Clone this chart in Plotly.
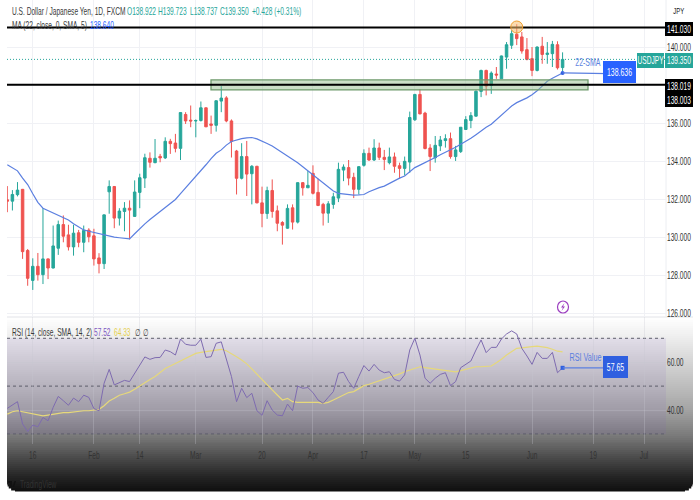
import plotly.graph_objects as go

W, H = 700, 500
opens = [131.98,131.91,132.25,132.53,129.32,127.75,128.49,128.05,128.88,128.40,129.44,130.68,130.14,129.51,130.25,129.75,130.39,130.09,128.93,128.63,
132.40,132.68,131.02,131.37,131.54,131.11,132.37,133.12,134.16,133.93,134.26,134.18,135.05,134.96,134.68,136.46,136.16,136.12,136.14,136.81,
135.96,135.89,137.16,137.33,136.12,134.54,133.11,134.25,133.35,133.74,131.82,131.26,132.47,131.40,130.79,130.49,131.56,130.81,132.88,132.61,
133.37,132.37,131.74,131.28,131.74,132.07,133.54,133.67,133.16,132.53,133.79,134.42,134.07,134.70,134.21,133.93,134.23,133.77,133.63,133.96,
136.18,137.51,136.53,134.70,134.19,134.81,135.09,135.19,134.25,134.51,135.67,136.14,136.37,137.67,138.77,137.98,138.58,138.33,139.47,140.09,
140.67,140.53,139.86,139.39,138.77,140.04,139.61,139.65,140.12,138.92]
highs = [132.70,132.49,132.91,132.55,129.40,128.91,129.19,131.54,128.90,130.63,130.89,131.16,130.67,130.67,130.40,130.63,130.49,130.46,129.18,131.20,
133.00,132.70,131.54,131.86,131.95,133.00,133.35,134.40,134.47,135.17,134.39,135.26,135.18,135.44,136.58,136.58,136.93,136.20,137.14,136.82,
136.40,137.20,137.95,137.42,136.20,134.60,134.95,135.07,133.80,133.76,132.67,132.67,133.05,131.68,130.86,131.74,131.74,132.90,132.91,133.49,
133.79,133.09,131.82,131.91,132.35,133.93,133.84,134.07,133.40,133.75,134.63,134.72,135.16,134.98,134.60,134.72,134.46,133.93,134.25,136.61,
137.54,137.79,136.60,134.90,135.33,135.33,135.42,135.51,134.81,135.79,136.37,136.58,137.72,138.81,138.81,138.72,138.95,139.55,140.26,140.88,
141.20,140.79,140.47,140.00,140.03,140.53,140.26,140.32,140.30,139.72]
lows = [131.33,131.42,132.16,128.88,127.47,127.25,127.74,127.56,127.82,128.38,129.09,129.75,129.32,129.05,129.49,129.23,129.75,128.53,128.12,128.35,
131.25,130.49,130.63,130.33,129.90,131.10,131.54,132.60,133.67,133.90,133.95,134.12,134.39,134.47,134.07,135.96,135.79,135.26,136.09,135.80,
135.44,135.56,136.58,136.05,134.20,132.26,133.05,132.18,131.74,131.80,130.54,130.98,131.04,130.33,129.63,130.46,130.42,130.74,132.20,132.60,
132.26,131.65,130.63,130.77,131.51,131.86,132.96,132.74,132.07,132.26,133.72,134.02,134.02,134.07,133.54,133.84,133.40,133.09,133.26,133.40,
136.12,136.47,134.63,133.49,133.93,134.54,134.72,134.14,134.02,134.44,135.65,135.74,136.35,137.37,137.46,137.54,138.33,138.32,138.86,139.90,
140.10,139.65,139.30,138.47,138.72,139.12,139.12,138.95,138.82,138.74]
closes = [131.91,132.26,132.49,129.26,127.86,128.49,128.05,128.88,128.40,129.56,130.68,130.07,129.51,130.23,129.75,130.37,130.04,128.88,128.63,131.19,
132.68,131.02,131.39,131.54,131.44,132.39,133.14,134.19,133.95,134.16,134.18,135.05,134.93,134.68,136.56,136.12,136.12,136.14,136.81,135.81,
135.89,137.18,137.32,136.12,135.04,133.11,134.25,133.33,133.74,131.82,131.26,132.47,131.37,130.75,130.65,131.53,130.81,132.88,132.61,132.74,
132.32,131.68,131.28,131.77,132.14,133.58,133.70,133.12,132.53,133.72,134.42,134.07,134.70,134.21,134.10,134.23,133.74,133.63,134.00,136.30,
137.51,136.49,134.67,134.25,134.84,135.12,135.19,134.25,134.60,135.79,136.19,136.40,137.68,138.77,137.95,138.63,138.53,139.53,140.12,140.70,
140.44,139.79,139.35,138.77,140.00,139.61,139.68,140.14,138.91,139.35]
sma22 = [133.82,133.68,133.5,133.12,132.78,132.3,131.85,131.54,131.42,131.3,131.2,131.06,130.92,130.72,130.55,130.4,130.33,130.27,130.2,130.12,
130.07,130.02,129.99,129.96,129.93,130.2,130.47,130.72,130.95,131.16,131.38,131.6,131.8,132.0,132.3,132.6,132.9,133.18,133.5,133.82,
134.14,134.42,134.6,134.85,135.04,135.13,135.19,135.23,135.25,135.18,135.07,134.94,134.8,134.63,134.44,134.25,134.1,133.92,133.72,133.5,
133.28,133.06,132.84,132.62,132.44,132.32,132.28,132.25,132.23,132.24,132.26,132.4,132.53,132.62,132.7,132.85,133.0,133.12,133.23,133.45,
133.67,133.8,133.92,134.05,134.2,134.35,134.48,134.58,134.74,134.9,135.05,135.21,135.4,135.6,135.79,135.95,136.2,136.45,136.67,136.9,
137.08,137.2,137.33,137.5,137.7,137.95,138.2,138.36,138.5,138.64]
rsi = [40.7,42.1,43.5,34.2,31,33.7,33,36.9,35.5,41.1,45.7,43.9,42,45,43.5,46.2,45.3,40.6,39.7,51.2,
57,50.5,51.6,52.4,51.9,55.4,58.4,62.2,61.2,61.9,62,65.1,64.4,63,69.7,67.5,67.1,67.1,69.6,62,
62.3,67.9,68.5,61.6,54,43.5,49.1,45.2,47,39.7,37.8,43.9,40,37.9,37.6,42.5,39.7,50,49.1,49.4,
47.3,44.2,42.8,45.3,47.7,55.4,55.8,51.9,49.1,54,58.6,56.3,59.1,56.7,55.6,56,52.8,52.1,54.7,65.1,
70,63,53.3,51.2,53.3,54.9,55.6,50.2,51.9,57.7,59.1,60.5,65.1,69.3,64,66.2,66.2,69.7,71.8,73.1,
71.8,65.8,62.6,59.1,64.1,61.6,61.6,64.1,55.6,57.65]
rsi_ma = [38.3,39.3,39.7,39.3,38.8,38.2,37.9,37.6,37.9,38.3,38.8,38.9,38.9,39.2,39.5,39.7,39.7,40,40.3,41.8,
43.8,44.9,46.2,46.8,47.5,48.7,50.1,51.6,52.8,54,55.8,57.4,58.4,59.5,60.5,61.6,62.6,63.7,64.1,64.4,
64.7,65.3,65.4,64.8,63.7,62.3,60.9,59.3,57.2,54.9,52.8,50.5,48.4,46.3,44.2,44.9,43.5,43.2,43.2,43.2,
43.2,43.2,42.8,43.2,44.2,45.2,46.3,47.3,47.7,49.1,50.2,50.8,51.5,52.1,52.8,53.7,54.2,55.1,56,56.7,
57.4,58.1,57.7,57.4,57,56.7,56.5,56.2,56,56.5,57,57.7,58.1,58.1,58.1,58.4,59.8,61.2,63,64.4,
65.8,66,66.4,66.5,66.7,66.5,66.1,65.4,64.6,64.33]
price_ticks = [126,128,130,132,134,136,138,140]
rsi_ticks = [40,60]
rsi_levels = [70,50,30]
date_pos = [5,17,26,37,50,60,70,80,90,103,115,125]
date_labels = ["16","Feb","14","Mar","20","Apr","17","May","15","Jun","19","Jul"]
LEVEL_HI, LEVEL_LO, LEVEL_LO2 = 141.03, 138.019, 138.003
ZONE = (137.75, 138.27)
LAST = 139.35
n = len(closes)
xs = list(range(n))

FONT = "Liberation Sans"
GREEN, RED = "#26a69a", "#ef5350"
XDOM = (7/W, 666/W)
fig = go.Figure()
fig.add_trace(go.Candlestick(x=xs, open=opens, high=highs, low=lows, close=closes, xaxis="x", yaxis="y",
    increasing=dict(line=dict(color=GREEN, width=1), fillcolor=GREEN),
    decreasing=dict(line=dict(color=RED, width=1), fillcolor=RED), showlegend=False, hoverinfo="skip"))
fig.add_trace(go.Scatter(x=xs, y=sma22, mode="lines", line=dict(color="#5b7fe0", width=1.2), xaxis="x", yaxis="y", showlegend=False, hoverinfo="skip"))
fig.add_trace(go.Scatter(x=xs, y=rsi_ma, mode="lines", line=dict(color="#e6d87a", width=1.2), xaxis="x2", yaxis="y2", showlegend=False, hoverinfo="skip"))
fig.add_trace(go.Scatter(x=xs, y=rsi, mode="lines", line=dict(color="#7e6bb0", width=1), xaxis="x2", yaxis="y2", showlegend=False, hoverinfo="skip"))
fig.add_trace(go.Scatter(x=[n-1], y=[sma22[-1]], mode="markers", marker=dict(color="#2f5fe0", size=4), xaxis="x", yaxis="y", showlegend=False, hoverinfo="skip"))
fig.add_trace(go.Scatter(x=[n-1], y=[rsi[-1]], mode="markers", marker=dict(color="#2f5fe0", size=4, symbol="square"), xaxis="x2", yaxis="y2", showlegend=False, hoverinfo="skip"))

shapes = []
# gradient panel at the bottom of the picture
grey_stops = [(318,255),(338,238),(361,214),(386,190),(409,165),(434,125),(444,105),(460,70),(475,40),(491,15)]
def grey(y):
    for (a, va), (b, vb) in zip(grey_stops, grey_stops[1:]):
        if y <= b:
            return int(va + (vb-va)*(y-a)/(b-a))
    return 15
top, bottom = 318, 491
step = 2
y = top
while y < bottom:
    y1 = min(y+step, bottom)
    remain = bottom - y1
    inset = 8 - (64-(8-remain)**2)**0.5 if remain < 8 else 0
    v = grey(y+1)
    shapes.append(dict(type="rect", xref="paper", yref="paper", layer="below", line=dict(width=0),
        x0=(7+inset)/W, x1=(693-inset)/W, y0=1-(y1+0.4)/H, y1=1-y/H, fillcolor=f"rgb({v},{v},{v})"))
    y = y1
# RSI band
shapes.append(dict(type="rect", xref="x2 domain", yref="y2", x0=0, x1=1, y0=rsi_levels[2], y1=rsi_levels[0], layer="below", line=dict(width=0), fillcolor="rgba(126,87,194,0.10)"))
for lv in rsi_levels:
    shapes.append(dict(type="line", xref="x2 domain", yref="y2", x0=0, x1=1, y0=lv, y1=lv, line=dict(color="#5d5d6b", width=1, dash="3px,3px"), layer="below"))
# pane separators
shapes.append(dict(type="line", xref="paper", yref="paper", x0=7/W, x1=693/W, y0=1-317/H, y1=1-317/H, line=dict(color="#e2e3e8", width=1), layer="below"))
shapes.append(dict(type="line", xref="paper", yref="paper", x0=7/W, x1=693/W, y0=1-444/H, y1=1-444/H, line=dict(color="#666", width=1), layer="below"))
shapes.append(dict(type="line", xref="paper", yref="paper", x0=666/W, x1=666/W, y0=1-317/H, y1=1, line=dict(color="#eceef2", width=1), layer="below"))
# trader's drawings
shapes.append(dict(type="line", xref="paper", yref="y", x0=XDOM[0], x1=XDOM[1], y0=LAST, y1=LAST, line=dict(color=GREEN, width=1, dash="1px,2px")))
shapes.append(dict(type="rect", xref="paper", yref="y", x0=211/W, x1=588/W, y0=ZONE[0], y1=ZONE[1], line=dict(color="#6f9a6c", width=1.3), fillcolor="rgba(140,185,130,0.45)"))
for lv in (LEVEL_HI, LEVEL_LO):
    shapes.append(dict(type="line", xref="paper", yref="y", x0=XDOM[0], x1=XDOM[1], y0=lv, y1=lv, line=dict(color="black", width=2)))
shapes.append(dict(type="circle", xref="x", yref="y", xsizemode="pixel", ysizemode="pixel", xanchor=100, yanchor=LEVEL_HI+0.02,
    x0=-6, x1=6, y0=-6, y1=6, line=dict(color="#f0a030", width=1), fillcolor="rgba(245,190,110,0.55)"))
shapes.append(dict(type="line", xref="x", yref="y", x0=n-1, x1=n+8, y0=sma22[-1], y1=sma22[-1]-0.04, line=dict(color="#5b7fe0", width=1.2)))
shapes.append(dict(type="line", xref="x2", yref="y2", x0=n-1, x1=n+8, y0=rsi[-1], y1=rsi[-1], line=dict(color="#5b7fe0", width=1.2)))
# lightning badge and logo, as small drawn glyphs
def pxpath(points):
    return "M" + " L".join(f"{px/W:.5f},{1-py/H:.5f}" for px, py in points) + " Z"
shapes.append(dict(type="circle", xref="paper", yref="paper", x0=557.5/W, x1=568.5/W, y0=1-313/H, y1=1-301/H, line=dict(color="#9c3fc0", width=1.2), fillcolor="white"))
shapes.append(dict(type="path", xref="paper", yref="paper", path=pxpath([(564.5,303),(561,307.5),(563,307.5),(561.5,311),(565,306.5),(563,306.5)]), fillcolor="#9c3fc0", line=dict(width=0)))
shapes.append(dict(type="path", xref="paper", yref="paper", path=pxpath([(8,481),(12,481),(12,487),(10,487),(10,483),(8,483)]), fillcolor="#111", line=dict(width=0)))
shapes.append(dict(type="path", xref="paper", yref="paper", path=pxpath([(12.5,487),(14.5,481),(16,481),(14,487)]), fillcolor="#111", line=dict(width=0)))

def label(text, px, py, bg=None, color="#131722", size=10.5, w=None, h=None):
    d = dict(text=text, xref="paper", yref="paper", x=px/W, y=1-py/H, xanchor="center", yanchor="middle", showarrow=False,
             font=dict(family=FONT, size=size, color=color), borderpad=0, borderwidth=0)
    if bg:
        d["bgcolor"] = bg
    if w: d["width"] = w
    if h: d["height"] = h
    return d
def head(text, px, py, color="#3a3a3a"):
    return dict(text=text, xref="paper", yref="paper", x=px/W, y=1-py/H, xanchor="left", yanchor="middle", align="left", showarrow=False,
                font=dict(family=FONT, size=10.5, color=color))

anns = [
    head("U.S. Dollar / Japanese Yen, 1D, FXCM", 10, 11),
    head("O138.922", 125, 11, GREEN), head("H139.723", 156, 11, GREEN), head("L138.737", 188, 11, GREEN),
    head("C139.350", 218, 11, GREEN), head("+0.428 (+0.31%)", 250, 11, GREEN),
    head("MA (22, close, 0, SMA, 5)", 10, 25), head("138.640", 88, 25, "#2962ff"),
    head("RSI (14, close, SMA, 14, 2)", 10, 332), head("57.52", 92, 332, "#7e57c2"), head("64.33", 112, 332, "#e6d050"),
    head("∅", 133, 332), head("∅", 141, 332),
    label("JPY", 679, 10, size=9.5),
    label("141.030", 679, 28.5, bg="black", color="white", w=28, h=14),
    label("138.019", 679, 85.5, bg="black", color="white", w=28, h=14),
    label("138.003", 679, 100, bg="black", color="white", w=28, h=14),
    label("USDJPY", 650.5, 60, bg=GREEN, color="white", w=27, h=15),
    label("139.350", 679, 60, bg=GREEN, color="white", w=28, h=15),
    label("138.636", 619.5, 72, bg="#2962ff", color="white", size=11, w=33, h=22),
    label("22-SMA", 588, 62, color="#5b7fe0", size=11),
    label("RSI Value", 585, 357, color="#5b7fe0", size=11.5),
    label("57.65", 615.5, 367, bg="#2f5fe0", color="white", size=11, w=25, h=22),
    head("TradingView", 18, 484, "#333"),
]

AX = dict(automargin=False, zeroline=False, ticks="", showline=False)
fig.update_layout(
    width=W, height=H, margin=dict(l=0, r=0, t=0, b=0), paper_bgcolor="white", plot_bgcolor="rgba(0,0,0,0)",
    showlegend=False, shapes=shapes, annotations=anns,
    font=dict(family=FONT, size=10.5, color="#333"),
    xaxis=dict(AX, domain=XDOM, range=[-0.06, 129.3], anchor="y", tickvals=date_pos, ticktext=[""]*len(date_pos), showgrid=True, gridcolor="#f0f1f5", rangeslider=dict(visible=False)),
    yaxis=dict(AX, domain=[1-317/H, 1.0], range=[125.83, 142.467], side="right", anchor="x", tickvals=price_ticks, tickformat=".3f", showgrid=True, gridcolor="#f0f1f5"),
    xaxis2=dict(AX, domain=XDOM, range=[-0.06, 129.3], anchor="y2", tickvals=date_pos, ticktext=date_labels, showgrid=True, gridcolor="rgba(200,200,210,0.3)", ticklabelstandoff=4, tickfont=dict(family=FONT, size=10.5, color="#333")),
    yaxis2=dict(AX, domain=[1-444/H, 1-317/H], range=[25.8, 78.9], side="right", anchor="x2", tickvals=rsi_ticks, tickformat=".2f", showgrid=True, gridcolor="rgba(200,200,210,0.3)", tickfont=dict(family=FONT, size=10.5, color="#333")),
)
post = """
document.body.style.margin = '0';
function squeeze() {
  document.querySelectorAll('.main-svg text').forEach(function (t) {
    if (t.getAttribute('data-sq')) return;
    if (!t.textContent) return;
    t.removeAttribute('clip-path');
    if (t.parentNode) t.parentNode.removeAttribute('clip-path');
    var x = parseFloat(t.getAttribute('x') || '0');
    var old = t.getAttribute('transform') || '';
    t.setAttribute('transform', old + ' translate(' + x + ',0) scale(0.63,1) translate(' + (-x) + ',0)');
    t.setAttribute('data-sq', '1');
  });
}
squeeze();
setTimeout(squeeze, 0);
setTimeout(squeeze, 100);
setTimeout(squeeze, 400);
"""
fig.write_html("out.html", post_script=post, config=dict(displayModeBar=False))
